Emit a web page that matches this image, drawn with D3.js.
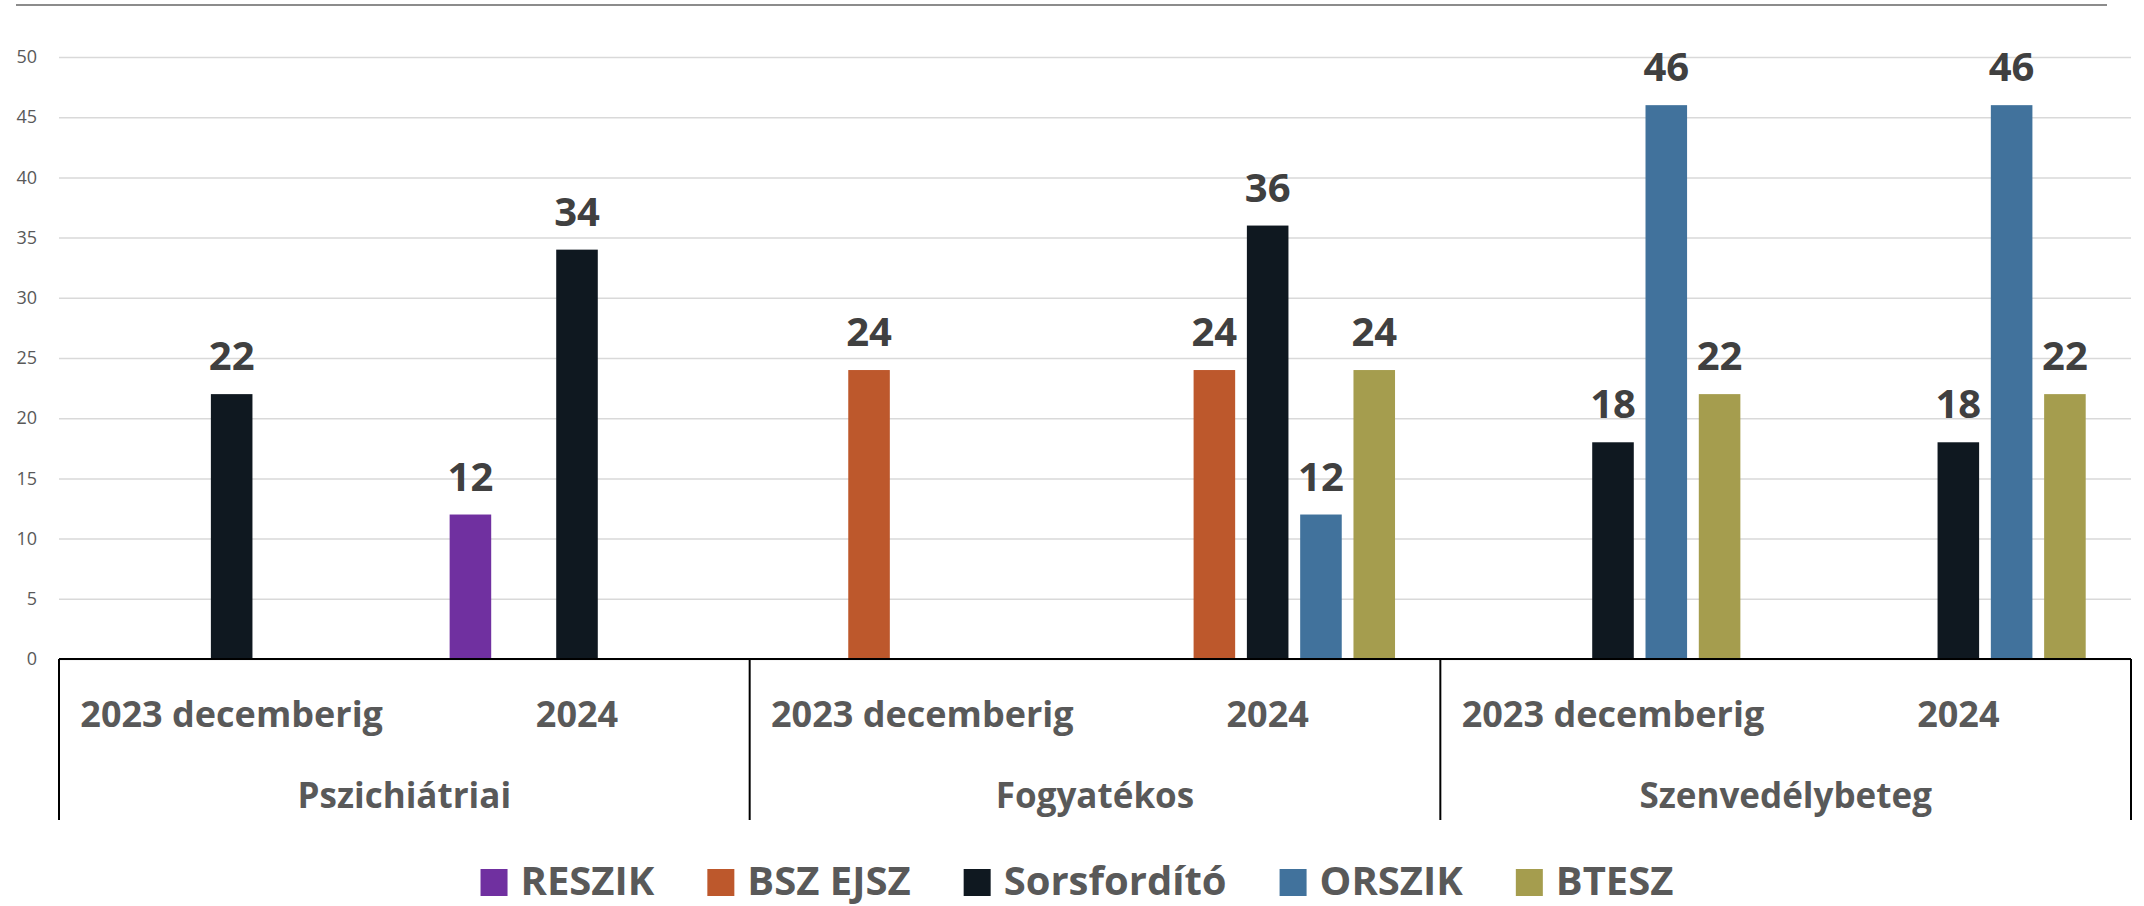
<!DOCTYPE html>
<html>
<head>
<meta charset="utf-8">
<script src="https://cdn.jsdelivr.net/npm/d3@7"></script>
<style>
  body { margin: 0; background: #fff; }
  text { font-family: "Open Sans", "Noto Sans", sans-serif; }
</style>
</head>
<body>
<div id="chart"></div>
<script>
var width = 2144;
var height = 906;

var groups = ['Pszichiátriai', 'Fogyatékos', 'Szenvedélybeteg'];
var periods = ['2023 decemberig', '2024'];
var seriesNames = ['RESZIK', 'BSZ EJSZ', 'Sorsfordító', 'ORSZIK', 'BTESZ'];
var colorArray = ['#7030A0', '#BD582C', '#0F1820', '#41729C', '#A59D4E'];

// one value per group x period, in order
var reszik = [null, 12, null, null, null, null];
var bszEjsz = [null, null, 24, 24, null, null];
var sorsfordito = [22, 34, null, 36, 18, 18];
var orszik = [null, null, null, 12, 46, 46];
var btesz = [null, null, null, 24, 22, 22];
var yTicks = [0, 5, 10, 15, 20, 25, 30, 35, 40, 45, 50];

var seriesValues = [reszik, bszEjsz, sorsfordito, orszik, btesz];

var cats = [];
groups.forEach((g) => periods.forEach((p) => cats.push(g + '|' + p)));

var margin = {left: 59, right: 13, top: 57, bottom: 247};

var svg = d3.select('#chart')
    .append('svg')
    .attr('width', width)
    .attr('height', height);

var x0 = d3.scaleBand()
    .domain(cats)
    .range([margin.left, width - margin.right]);

var x1 = d3.scaleBand()
    .domain(seriesNames)
    .range([0, x0.bandwidth()])
    .paddingInner(0.22)
    .paddingOuter(0.85);

var xGroup = d3.scaleBand()
    .domain(groups)
    .range([margin.left, width - margin.right]);

var y = d3.scaleLinear()
    .domain([0, 50])
    .range([height - margin.bottom, margin.top]);

// top frame line
svg.append('line')
    .attr('x1', 16).attr('x2', 2107)
    .attr('y1', 5).attr('y2', 5)
    .attr('stroke', '#8c8c8c')
    .attr('stroke-width', 2);

// gridlines + y labels
var yAxis = svg.append('g')
    .attr('transform', `translate(${margin.left}, 0)`)
    .call(d3.axisLeft(y).tickValues(yTicks).tickSize(-(width - margin.left - margin.right)).tickPadding(22));
yAxis.select('.domain').remove();
yAxis.selectAll('.tick line')
    .attr('stroke', '#d9d9d9')
    .attr('stroke-width', 1.5);
yAxis.selectAll('.tick text')
    .attr('fill', '#595959')
    .style('font-size', '18px');

// bars
var barData = [];
seriesValues.forEach((vals, si) => {
    vals.forEach((v, ci) => {
        if (v != null) barData.push({series: seriesNames[si], cat: cats[ci], value: v, i: si});
    });
});

svg.append('g')
    .selectAll('rect')
    .data(barData)
    .enter()
    .append('rect')
    .attr('x', (d) => x0(d.cat) + x1(d.series))
    .attr('y', (d) => y(d.value))
    .attr('width', x1.bandwidth())
    .attr('height', (d) => y(0) - y(d.value))
    .attr('fill', (d) => colorArray[d.i]);

svg.append('g')
    .selectAll('text')
    .data(barData)
    .enter()
    .append('text')
    .attr('x', (d) => x0(d.cat) + x1(d.series) + x1.bandwidth() / 2)
    .attr('y', (d) => y(d.value) - 24)
    .attr('text-anchor', 'middle')
    .attr('fill', '#404040')
    .style('font-size', '40px')
    .style('font-weight', 'bold')
    .text((d) => d.value);

// category axis
var y0 = y(0);
svg.append('line')
    .attr('x1', margin.left).attr('x2', width - margin.right)
    .attr('y1', y0).attr('y2', y0)
    .attr('stroke', '#000')
    .attr('stroke-width', 2);

var bounds = groups.map((g) => xGroup(g)).concat([width - margin.right]);
svg.append('g')
    .selectAll('line')
    .data(bounds)
    .enter()
    .append('line')
    .attr('x1', (d) => d).attr('x2', (d) => d)
    .attr('y1', y0).attr('y2', 820)
    .attr('stroke', '#000')
    .attr('stroke-width', 2);

svg.append('g')
    .selectAll('text')
    .data(cats)
    .enter()
    .append('text')
    .attr('x', (d) => x0(d) + x0.bandwidth() / 2)
    .attr('y', 727)
    .attr('text-anchor', 'middle')
    .attr('fill', '#595959')
    .style('font-size', '36px')
    .style('font-weight', 'bold')
    .text((d) => d.split('|')[1]);

svg.append('g')
    .selectAll('text')
    .data(groups)
    .enter()
    .append('text')
    .attr('x', (d) => xGroup(d) + xGroup.bandwidth() / 2)
    .attr('y', 808)
    .attr('text-anchor', 'middle')
    .attr('fill', '#595959')
    .style('font-size', '35px')
    .style('font-weight', 'bold')
    .text((d) => d);

// legend
var legend = svg.append('g');
var items = legend.selectAll('g')
    .data(seriesNames)
    .enter()
    .append('g');
items.append('rect')
    .attr('width', 27).attr('height', 27)
    .attr('y', 869)
    .attr('fill', (d, i) => colorArray[i]);
items.append('text')
    .attr('x', 40)
    .attr('y', 895)
    .attr('fill', '#595959')
    .style('font-size', '40px')
    .style('font-weight', 'bold')
    .text((d) => d);

var gap = 53;
var pos = 0;
var offsets = [];
items.each(function() {
    offsets.push(pos);
    pos += 40 + d3.select(this).select('text').node().getComputedTextLength() + gap;
});
var total = pos - gap;
var start = 1077 - total / 2;
items.attr('transform', (d, i) => `translate(${start + offsets[i]}, 0)`);
</script>
</body>
</html>
